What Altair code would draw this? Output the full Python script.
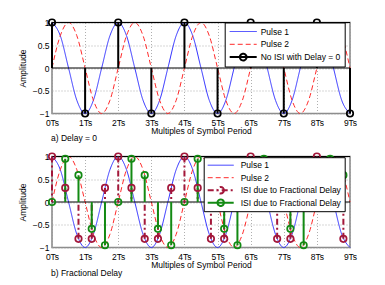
import altair as alt
import pandas as pd

FONT = "Liberation Sans"

# ---- data ----
t_curve = [0.0, 0.25, 0.5, 0.75, 1.0, 1.25, 1.5, 1.75, 2.0, 2.25, 2.5, 2.75,
           3.0, 3.25, 3.5, 3.75, 4.0, 4.25, 4.5, 4.75, 5.0, 5.25, 5.5, 5.75,
           6.0, 6.25, 6.5, 6.75, 7.0, 7.25, 7.5, 7.75, 8.0, 8.25, 8.5, 8.75, 9.0]
pulse1 = [1, 0.71, 0, -0.71, -1, -0.71, 0, 0.71,
          1, 0.71, 0, -0.71, -1, -0.71, 0, 0.71,
          1, 0.71, 0, -0.71, -1, -0.71, 0, 0.71,
          1, 0.71, 0, -0.71, -1, -0.71, 0, 0.71,
          1, 0.71, 0, -0.71, -1]
pulse2 = [0, 0.71, 1, 0.71, 0, -0.71, -1, -0.71,
          0, 0.71, 1, 0.71, 0, -0.71, -1, -0.71,
          0, 0.71, 1, 0.71, 0, -0.71, -1, -0.71,
          0, 0.71, 1, 0.71, 0, -0.71, -1, -0.71,
          0, 0.71, 1, 0.71, 0]

t_symbol = [0, 1, 2, 3, 4, 5, 6, 7, 8, 9]
no_isi = [1, -1, 1, -1, 1, -1, 1, -1, 1, -1]

t_frac = [0.0, 0.4, 0.8, 1.2, 1.6, 2.0, 2.4, 2.8, 3.2, 3.6, 4.0, 4.4,
          4.8, 5.2, 5.6, 6.0, 6.4, 6.8, 7.2, 7.6, 8.0, 8.4, 8.8]
isi_red = [1, 0.31, -0.81, -0.81, 0.31, 1, 0.31, -0.81, -0.81, 0.31,
           1, 0.31, -0.81, -0.81, 0.31, 1, 0.31, -0.81, -0.81, 0.31,
           1, 0.31, -0.81]
isi_green = [0, 0.95, 0.59, -0.59, -0.95, 0, 0.95, 0.59, -0.59, -0.95,
             0, 0.95, 0.59, -0.59, -0.95, 0, 0.95, 0.59, -0.59, -0.95,
             0, 0.95, 0.59]

x_ticks = [0, 1, 2, 3, 4, 5, 6, 7, 8, 9]
y_ticks = [-1, -0.5, 0, 0.5, 1]
ref_levels = [0, 1]

top_series = ["Pulse 1", "Pulse 2", "No ISI with Delay = 0"]
bottom_series = ["Pulse 1", "Pulse 2", "ISI red", "ISI green"]
isi_label = "ISI due to Fractional Delay"
captions = ["a) Delay = 0", "b) Fractional Delay"]
x_title = "Multiples of Symbol Period"
y_title = "Amplitude"

# ---- styling ----
BLUE, RED, BLACK, CRIMSON, GREEN = "#3030ff", "#ff2a2a", "#000000", "#a3173a", "#138a13"
SOLID, DASH, DASHDOT = [1, 0], [5, 3], [6, 3, 2, 3]
SYM_EXPR = ("indexof(datum.value, 'Pulse') == 0 ? 'stroke' : "
            "'M-1,0H1M0.25,0A0.25,0.25,0,1,1,-0.25,0A0.25,0.25,0,1,1,0.25,0'")

W, H = 298, 91

x_scale = alt.Scale(domain=[0, 9], nice=False, zero=False)
y_scale = alt.Scale(domain=[-1, 1], nice=False, zero=False)
x_axis = alt.Axis(values=x_ticks, labelExpr="datum.value + 'Ts'", title=x_title,
                  labelFlush=False, labelOverlap=False, labelPadding=4.5, titlePadding=0)
y_axis = alt.Axis(values=y_ticks, format="~g", title=y_title, labelOverlap=False,
                  labelPadding=3, titlePadding=5)


def panel(curve_df, stem_df, domain, colors, dashes, widths, legend, caption, cap_y):
    color = alt.Color("series:N", scale=alt.Scale(domain=domain, range=colors), legend=legend)
    dash = alt.StrokeDash("series:N", scale=alt.Scale(domain=domain, range=dashes), legend=legend)
    width = alt.StrokeWidth("series:N", scale=alt.Scale(type="ordinal", domain=domain, range=widths),
                            legend=legend)
    x = alt.X("t:Q", scale=x_scale, axis=x_axis)
    y = alt.Y("v:Q", scale=y_scale, axis=y_axis)

    curves = alt.Chart(curve_df).mark_line(interpolate="monotone").encode(
        x=x, y=y, color=color, strokeDash=dash, strokeWidth=width)
    refs = alt.Chart(pd.DataFrame({"v": ref_levels})).mark_rule(
        color="black", strokeWidth=1.2).encode(y=y)
    stems = alt.Chart(stem_df).mark_rule().encode(
        x=x, y=y, y2="base:Q", color=color, strokeDash=dash, strokeWidth=width)
    dots = alt.Chart(stem_df).mark_point(shape="circle", filled=False, size=42,
                                         strokeWidth=1.7, opacity=1).encode(
        x=x, y=y, color=color)
    cap = alt.Chart(pd.DataFrame({"caption": [caption]})).mark_text(
        align="left", baseline="middle", font=FONT, fontSize=8.5, color="black",
        x=-1, y=cap_y).encode(text="caption:N")
    return alt.layer(curves, refs, stems, dots, cap).properties(width=W, height=H)


curve_top = pd.DataFrame({"t": t_curve * 2, "v": pulse1 + pulse2,
                          "series": ["Pulse 1"] * len(t_curve) + ["Pulse 2"] * len(t_curve)})
stem_top = pd.DataFrame({"t": t_symbol, "v": no_isi, "base": [0] * len(t_symbol),
                         "series": [top_series[2]] * len(t_symbol)})
stem_bot = pd.DataFrame({"t": t_frac * 2, "v": isi_red + isi_green,
                         "base": [0] * (2 * len(t_frac)),
                         "series": ["ISI red"] * len(t_frac) + ["ISI green"] * len(t_frac)})

leg_top = alt.Legend(title=None, orient="none", legendX=172.7, legendY=0,
                     fillColor="white", strokeColor="black", padding=4,
                     symbolSize=729, symbolType={"expr": SYM_EXPR},
                     symbolFillColor="transparent",
                     labelFont=FONT, labelFontSize=8.5, labelColor="black",
                     labelOffset=3, clipHeight=10, rowPadding=2.8, labelLimit=300)
leg_bot = alt.Legend(title=None, orient="none", legendX=151.7, legendY=0.7,
                     fillColor="white", strokeColor="black", padding=3,
                     symbolSize=676, symbolType={"expr": SYM_EXPR},
                     symbolFillColor="transparent",
                     labelFont=FONT, labelFontSize=8.5, labelColor="black",
                     labelOffset=6, clipHeight=10, rowPadding=2.5, labelLimit=300,
                     labelExpr=f"indexof(datum.label, 'ISI') == 0 ? '{isi_label}' : datum.label")

top = panel(curve_top, stem_top, top_series, [BLUE, RED, BLACK],
            [SOLID, DASH, SOLID], [1, 1, 2], leg_top, captions[0], 115)
bottom = panel(curve_top, stem_bot, bottom_series, [BLUE, RED, CRIMSON, GREEN],
               [SOLID, DASH, DASHDOT, SOLID], [1, 1, 2, 2], leg_bot, captions[1], 116)

chart = alt.vconcat(top, bottom, spacing=43, bounds="flush").resolve_scale(
    color="independent", strokeDash="independent", strokeWidth="independent"
).properties(
    padding={"left": 9, "top": 6.5, "right": 5, "bottom": 5}
).configure_view(
    stroke="#8c8c8c", strokeWidth=1.6
).configure_axis(
    labelFont=FONT, labelFontSize=8.5, labelColor="black",
    titleFont=FONT, titleFontSize=8.5, titleFontWeight="normal", titleColor="black",
    domain=False, ticks=False, grid=True, gridColor="#9a9a9a", gridDash=[1, 2],
    gridWidth=0.8
)

chart.save("out.html", embed_options={"renderer": "svg", "actions": False})
